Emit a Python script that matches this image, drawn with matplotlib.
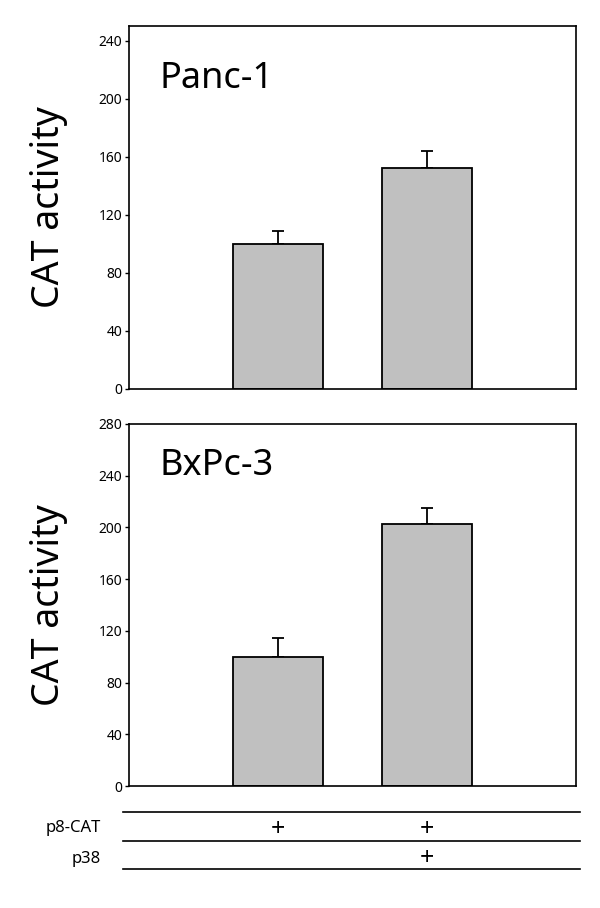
import matplotlib
matplotlib.use("Agg")
import matplotlib.pyplot as plt

plt.rcParams['font.family'] = ['Noto Sans', 'DejaVu Sans']

# data
positions = [1, 2]
panc_values = [100, 152]
panc_errors = [9, 12]
bxpc_values = [100, 203]
bxpc_errors = [14.5, 12]
panc_ticks = [0, 40, 80, 120, 160, 200, 240]
bxpc_ticks = [0, 40, 80, 120, 160, 200, 240, 280]
row_labels = ["p8-CAT", "p38"]
row_marks = [[True, True], [False, True]]

W, H = 600, 908
fig = plt.figure(figsize=(W / 100, H / 100), dpi=100)


def px_axes(left, top, right, bottom):
    return fig.add_axes([left / W, 1 - bottom / H, (right - left) / W, (bottom - top) / H])


def _bar_panel(ax, values, errors, ticks, ymax, name, name_size, name_y):
    ax.bar(positions, values, width=0.6, color="#c0c0c0", edgecolor="black",
           linewidth=1.3, zorder=2)
    ax.errorbar(positions, values, yerr=[[0] * len(errors), errors], fmt="none",
                ecolor="black", elinewidth=1.3, capsize=4, capthick=1.3, zorder=1)
    ax.set_xlim(0, 3)
    ax.set_ylim(0, ymax)
    ax.set_yticks(ticks)
    ax.set_xticks([])
    ax.tick_params(axis="y", direction="out", length=3, width=1, pad=2, labelsize=10)
    for s in ax.spines.values():
        s.set_linewidth(1.2)
    ax.text(0.068, name_y, name, transform=ax.transAxes, fontsize=name_size,
            ha="left", va="center")


ax1 = px_axes(129, 26, 576, 389)
_bar_panel(ax1, panc_values, panc_errors, panc_ticks, 250, "Panc-1", 26, 0.855)
fig.text(49 / W, 1 - 207 / H, "CAT activity", rotation=90, fontsize=27,
         ha="center", va="center")

ax2 = px_axes(129, 424, 576, 786)
_bar_panel(ax2, bxpc_values, bxpc_errors, bxpc_ticks, 280, "BxPc-3", 26, 0.885)
fig.text(49 / W, 1 - 605 / H, "CAT activity", rotation=90, fontsize=27,
         ha="center", va="center")

# condition table under the bars
tab = px_axes(129, 812, 576, 869)
tab.set_xlim(0, 3)
tab.set_ylim(2, 0)
tab.axis("off")
for y in [0, 1, 2]:
    tab.plot([-0.04, 3.027], [y, y], color="black", linewidth=1.2, clip_on=False)
for r, label in enumerate(row_labels):
    tab.text(-0.19, r + 0.55 + 0.1 * r, label, ha="right", va="center", fontsize=12)
    for x, on in zip(positions, row_marks[r]):
        if on:
            tab.text(x, r + 0.62, "+", ha="center", va="center", fontsize=18)

fig.savefig("out.png", dpi=100)
